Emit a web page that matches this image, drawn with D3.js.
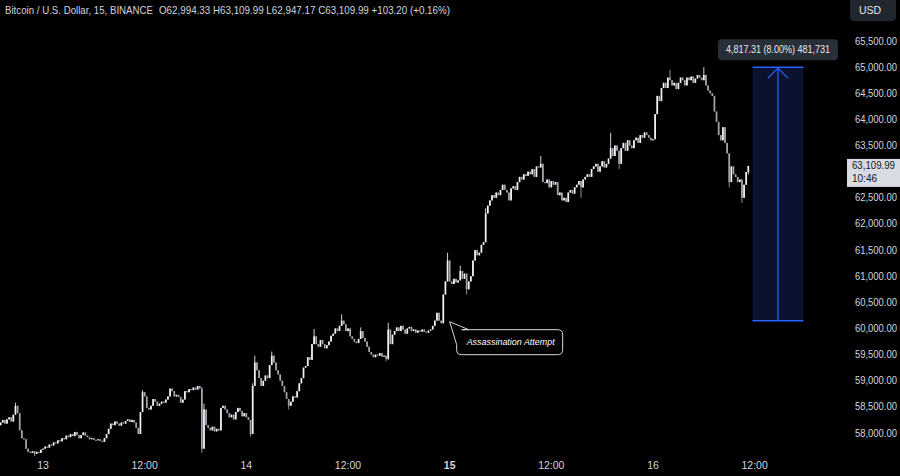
<!DOCTYPE html>
<html><head><meta charset="utf-8">
<script src="https://cdn.jsdelivr.net/npm/d3@7"></script>
<style>html,body{margin:0;padding:0;background:#000;overflow:hidden}svg{display:block}</style>
</head><body><svg id="c" width="900" height="476"></svg>
<script>
// ---------------- DATA ----------------
const startTime = "2024-07-12T19:00";   // first 15-minute candle
const candleMinutes = 15;
const closes = [
58200,58250,58180,58260,58300,58220,58350,58520,58380,58050,
57900,57880,57700,57640,57620,57650,57600,57640,57620,57680,
57700,57740,57720,57780,57760,57820,57800,57860,57840,57900,
57880,57950,57920,57980,57940,58020,57960,57900,57960,58010,
57950,57920,57880,57900,57870,57860,57880,57850,57830,57900,
57980,58080,58180,58150,58220,58180,58140,58200,58180,58230,
58260,58210,58250,58200,58100,57980,58400,58780,58700,58480,
58450,58520,58650,58600,58520,58560,58600,58580,58640,58700,
58850,58800,58700,58730,58690,58580,58640,58800,58780,58840,
58820,58870,58830,58900,58850,57700,58450,58150,58100,58050,
58120,58030,58080,58050,58480,58520,58450,58380,58300,58350,
58260,58400,58480,58420,58320,58380,58300,58250,57980,58900,
59350,59200,59050,58900,59000,59100,59050,59300,59480,59350,
59200,59120,59000,58900,58780,58650,58520,58600,58700,58680,
58800,58950,59050,59250,59280,59450,59400,59700,59850,59700,
59650,59780,59700,59620,59680,59750,59860,59900,60000,59950,
60050,60150,60080,59950,60000,59850,59800,59750,59720,59800,
59950,59820,59750,59650,59550,59500,59450,59500,59480,59530,
59460,59480,59420,59980,59700,59880,59950,60020,59950,60050,
59980,59900,60000,60030,59950,59980,59920,59960,59940,59980,
59940,59920,59960,59980,60050,60150,60300,60150,60100,60650,
60900,61300,60900,60850,60950,60880,60920,61100,60950,61050,
60750,60900,61000,61300,61500,61400,61450,61600,61650,62200,
62350,62450,62550,62500,62600,62550,62650,62750,62650,62600,
62450,62680,62720,62650,62800,62900,62850,62950,62920,63000,
62950,63050,62900,63100,63080,63150,62800,62780,62850,62700,
62820,62750,62800,62550,62600,62450,62500,62420,62600,62650,
62580,62700,62750,62820,62700,62850,62900,62950,62900,63050,
63100,63150,63000,63100,63200,63080,63150,63250,63450,63300,
63500,63400,63150,63450,63550,63400,63600,63500,63450,63600,
63650,63550,63700,63650,63750,63700,63650,63600,63620,64100,
64450,64350,64600,64700,64600,64800,64750,64650,64700,64580,
64700,64800,64750,64650,64800,64750,64820,64700,64780,64850,
64800,64750,64850,64650,64550,64500,64450,64150,63950,63700,
63600,63850,63550,63350,62800,63100,62950,62900,62800,62850,
62500,62750,62994.33,63109.99
];
const firstOpen = 58150;
// visible wick extremes: [candle index, high, low]
const wicks = [
[7,58580,null],[16,null,57560],[67,58820,null],[95,58880,57620],[96,58560,null],
[118,null,57930],[119,58950,null],[120,59480,null],[128,59560,null],[136,null,58450],
[148,59990,null],[161,60270,null],[170,60020,null],[182,null,59370],[183,60110,59400],
[211,61450,null],[217,61200,null],[220,null,60650],[229,62300,null],[255,63300,null],
[274,null,62500],[288,63740,null],[292,null,63050],[316,64950,null],[332,65000,null],
[344,null,62700],[350,null,62400],[353,63109.99,62947.17]
];
const priceTicks = [58000,58500,59000,59500,60000,60500,61000,61500,62000,62500,63000,63500,64000,64500,65000,65500];
const hiddenTicks = [63000];  // covered by last price label
const timeTicks = ["2024-07-13T00:00","2024-07-13T12:00","2024-07-14T00:00","2024-07-14T12:00","2024-07-15T00:00","2024-07-15T12:00","2024-07-16T00:00","2024-07-16T12:00"];
const timeLabels = ["13","12:00","14","12:00","15","12:00","16","12:00"];
const boldTimeLabel = "15";
const titleText = "Bitcoin / U.S. Dollar, 15, BINANCE";
const ohlcText = "O62,994.33  H63,109.99  L62,947.17  C63,109.99  +103.20 (+0.16%)";
const currency = "USD";
const lastPrice = 63109.99;
const lastPriceLabel = "63,109.99";
const countdown = "10:46";
const measureStartTime = "2024-07-16T11:45";
const measureEndTime = "2024-07-16T17:45";
const measureHigh = 65000, measureLow = 60150;
const measureLabel = "4,817.31 (8.00%) 481,731";
const noteText = "Assassination Attempt";
const noteTime = "2024-07-15T00:00";
const notePrice = 60130;

// ---------------- CHART ----------------
const parse = d3.timeParse("%Y-%m-%dT%H:%M");
const svg = d3.select("#c");
const W = 900, H = 476;
svg.append("rect").attr("width", W).attr("height", H).attr("fill", "#000");

const x = d3.scaleTime()
  .domain([parse("2024-07-13T00:00"), parse("2024-07-16T00:00")])
  .range([43, 653]);
const y = d3.scaleLinear().domain([58000, 65500]).range([433, 41]);

const t0 = parse(startTime);
const candles = closes.map((c, i) => {
  const o = i === 0 ? firstOpen : closes[i - 1];
  let h = Math.max(o, c), l = Math.min(o, c);
  return { t: d3.timeMinute.offset(t0, i * candleMinutes), o, c, h, l };
});
wicks.forEach(([i, hi, lo]) => {
  if (hi != null) candles[i].h = Math.max(candles[i].h, hi);
  if (lo != null) candles[i].l = Math.min(candles[i].l, lo);
});

const font = "'Liberation Sans', Arial, sans-serif";
const textCol = "#d1d4dc";

// measure tool (behind candles)
const mx0 = x(parse(measureStartTime)), mx1 = x(parse(measureEndTime));
const my0 = y(measureHigh), my1 = y(measureLow);
const mg = svg.append("g");
mg.append("rect").attr("x", mx0).attr("y", my0).attr("width", mx1 - mx0).attr("height", my1 - my0)
  .attr("fill", "#0a1230");
mg.append("line").attr("x1", mx0).attr("x2", mx1).attr("y1", my0).attr("y2", my0).attr("stroke", "#2962ff").attr("stroke-width", 1.5);
mg.append("line").attr("x1", mx0).attr("x2", mx1).attr("y1", my1).attr("y2", my1).attr("stroke", "#2962ff").attr("stroke-width", 1.5);
const mxm = (mx0 + mx1) / 2;
mg.append("line").attr("x1", mxm).attr("x2", mxm).attr("y1", my0 + 1).attr("y2", my1).attr("stroke", "#2962ff").attr("stroke-width", 1.3);
mg.append("path").attr("d", `M${mxm - 10},${my0 + 11} L${mxm},${my0 + 1} L${mxm + 10},${my0 + 11}`)
  .attr("fill", "none").attr("stroke", "#2962ff").attr("stroke-width", 1.3);
mg.append("rect").attr("x", mxm - 60).attr("y", my0 - 28).attr("width", 120).attr("height", 21).attr("rx", 4)
  .attr("fill", "#2a2e39");
mg.append("text").attr("x", mxm).attr("y", my0 - 17.5).attr("dy", "0.35em").attr("text-anchor", "middle")
  .attr("font-family", font).attr("font-size", 10).attr("fill", "#e6e8ee")
  .attr("textLength", 104).attr("lengthAdjust", "spacingAndGlyphs").text(measureLabel);

// candles
const cg = svg.append("g");
const bw = 1.7;
cg.selectAll("line.w").data(candles).join("line").attr("class", "w")
  .attr("x1", d => x(d.t)).attr("x2", d => x(d.t))
  .attr("y1", d => y(d.h)).attr("y2", d => y(d.l))
  .attr("stroke", d => d.c >= d.o ? "#e8e8ec" : "#9a9da6").attr("stroke-width", 0.9);
cg.selectAll("rect.b").data(candles).join("rect").attr("class", "b")
  .attr("x", d => x(d.t) - bw / 2).attr("width", bw)
  .attr("y", d => y(Math.max(d.o, d.c)))
  .attr("height", d => Math.max(1, y(Math.min(d.o, d.c)) - y(Math.max(d.o, d.c))))
  .attr("fill", d => d.c >= d.o ? "#f2f2f5" : "#a3a6ae");

// annotation callout
const nx = x(parse(noteTime)) + 0, ny = y(notePrice);
const bx = nx + 7, by = ny + 8, bW = 106, bH = 25;
const ag = svg.append("g");
ag.append("path")
  .attr("d", `M${bx + 5},${by} H${bx + bW - 5} Q${bx + bW},${by} ${bx + bW},${by + 5} V${by + bH - 5} Q${bx + bW},${by + bH} ${bx + bW - 5},${by + bH} H${bx + 5} Q${bx},${by + bH} ${bx},${by + bH - 5} V${by + 15} L${nx},${ny} L${bx + 12},${by} Z`)
  .attr("fill", "#000").attr("stroke", "#d8d8d8").attr("stroke-width", 1);
ag.append("text").attr("x", bx + bW / 2 + 1).attr("y", by + bH / 2).attr("dy", "0.35em").attr("text-anchor", "middle")
  .attr("font-family", font).attr("font-style", "italic").attr("font-size", 9.5).attr("fill", "#ffffff")
  .attr("textLength", 88).attr("lengthAdjust", "spacingAndGlyphs").text(noteText);

// right price axis
const yg = svg.append("g");
yg.selectAll("text").data(priceTicks.filter(p => !hiddenTicks.includes(p))).join("text")
  .attr("x", 855).attr("y", d => y(d)).attr("dy", "0.35em")
  .attr("font-family", font).attr("font-size", 10).attr("fill", textCol)
  .attr("textLength", 42).attr("lengthAdjust", "spacingAndGlyphs")
  .text(d => d3.format(",.2f")(d));
// currency box
svg.append("rect").attr("x", 850).attr("y", -4).attr("width", 46).attr("height", 25).attr("rx", 4).attr("fill", "#22262f");
svg.append("text").attr("x", 859).attr("y", 10.5).attr("dy", "0.35em").attr("font-family", font)
  .attr("font-size", 10.5).attr("fill", "#e6e8ee").text(currency);
// last price label
const ly = y(lastPrice);
svg.append("rect").attr("x", 847).attr("y", ly - 7).attr("width", 53).attr("height", 28).attr("fill", "#d8dbe2");
svg.append("text").attr("x", 852).attr("y", ly).attr("dy", "0.35em").attr("font-family", font)
  .attr("font-size", 10).attr("fill", "#131722").attr("textLength", 43).attr("lengthAdjust", "spacingAndGlyphs")
  .text(lastPriceLabel);
svg.append("text").attr("x", 852).attr("y", ly + 13).attr("dy", "0.35em").attr("font-family", font)
  .attr("font-size", 10).attr("fill", "#131722").text(countdown);

// time axis
const xg = svg.append("g");
xg.selectAll("text").data(timeTicks.map((t, i) => ({ t: parse(t), label: timeLabels[i] }))).join("text")
  .attr("x", d => x(d.t)).attr("y", 465).attr("dy", "0.35em").attr("text-anchor", "middle")
  .attr("font-family", font).attr("font-size", 10.5).attr("fill", textCol)
  .attr("font-weight", d => d.label === boldTimeLabel ? "bold" : "normal")
  .text(d => d.label);

// title legend
svg.append("text").attr("x", 5).attr("y", 10).attr("dy", "0.35em")
  .attr("font-family", font).attr("font-size", 10.5).attr("fill", textCol)
  .attr("textLength", 148).attr("lengthAdjust", "spacingAndGlyphs").text(titleText);
svg.append("text").attr("x", 159).attr("y", 10).attr("dy", "0.35em")
  .attr("font-family", font).attr("font-size", 10.5).attr("fill", textCol)
  .attr("textLength", 291).attr("lengthAdjust", "spacingAndGlyphs").text(ohlcText);
</script></body></html>
